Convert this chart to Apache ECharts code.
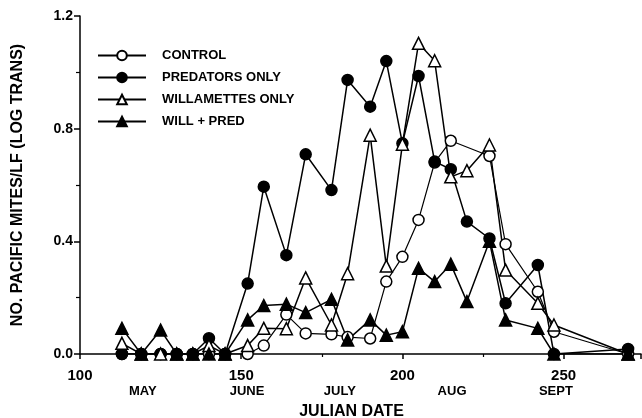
<!DOCTYPE html>
<html>
<head>
<meta charset="utf-8">
<script src="https://cdn.jsdelivr.net/npm/echarts@6/dist/echarts.min.js"></script>
<style>
html,body{margin:0;padding:0;background:#fff;}
#c{width:642px;height:418px;}
</style>
</head>
<body>
<div id="c"></div>
<script>
const days = [113,119,125,130,135,140,145,152,157,164,170,178,183,190,195,200,205,210,215,220,227,232,242,247,270];
const control  = [0,0,0,0,0,0,0,0,0.03,0.14,0.073,0.07,0.06,0.055,0.257,0.345,0.476,0.68,0.757,null,0.703,0.39,0.221,0.079,0];
const pred     = [0,0,0,0,0,0.056,0,0.25,0.594,0.351,0.709,0.582,0.973,0.878,1.04,0.748,0.987,0.683,0.656,0.47,0.41,0.18,0.316,0,0.018];
const will     = [0.038,0,0,0,0,0.03,0,0.03,0.091,0.09,0.27,0.103,0.285,0.777,0.312,0.745,1.103,1.041,0.629,0.651,0.742,0.298,0.18,0.103,0];
const willPred = [0.091,0,0.085,0,0,0,0,0.121,0.172,0.177,0.147,0.194,0.05,0.121,0.067,0.079,0.304,0.257,0.319,0.186,0.40,0.121,0.091,0,0];
const seriesNames = ['CONTROL','PREDATORS ONLY','WILLAMETTES ONLY','WILL + PRED'];
const months = ['MAY','JUNE','JULY','AUG','SEPT'];
const monthDays = [119.5,151.8,180.6,215.4,247.6];

const FONT = '"Liberation Sans", Arial, sans-serif';
function pairs(vals){ return days.map((d,i)=>[d, vals[i]]); }

const chart = echarts.init(document.getElementById('c'), null, {renderer:'canvas'});
function mk(name, vals, symbol, filled, lw){
  return {
    name, type:'line', data: pairs(vals), symbol, symbolSize: symbol==='triangle'?12:11,
    connectNulls:true, showAllSymbol:true,
    lineStyle:{color:'#000', width: lw},
    itemStyle:{color: filled?'#000':'#fff', borderColor:'#000', borderWidth:1.5},
    emphasis:{disabled:true}
  };
}
const option = {
  animation:false,
  backgroundColor:'#fff',
  grid:{left:80, top:16, right:1, bottom:64, containLabel:false, outerBoundsMode:'none'},
  legend:{
    orient:'vertical', left:97, top:49, padding:0, itemWidth:48, itemHeight:12, itemGap:9,
    data: seriesNames,
    textStyle:{fontFamily:FONT, fontWeight:'bold', fontSize:13, color:'#000', padding:[0,0,0,11]},
    selectedMode:false
  },
  xAxis:{
    type:'value', min:100, max:274, interval:50,
    axisLine:{lineStyle:{color:'#000', width:1.5}},
    axisTick:{length:5, lineStyle:{color:'#000', width:1.5}},
    minorTick:{show:true, splitNumber:2, length:3, lineStyle:{color:'#000', width:1.2}},
    splitLine:{show:false},
    axisLabel:{showMaxLabel:false, margin:14, fontFamily:FONT, fontWeight:'bold', fontSize:15, color:'#000'},
    name:'JULIAN DATE', nameLocation:'middle', nameGap:50,
    nameTextStyle:{fontFamily:FONT, fontWeight:'bold', fontSize:16, color:'#000', padding:[0,18,0,0]}
  },
  yAxis:{
    type:'value', min:0, max:1.2, interval:0.4,
    axisLine:{show:true, lineStyle:{color:'#000', width:1.5}},
    axisTick:{show:true, length:6, lineStyle:{color:'#000', width:1.5}},
    minorTick:{show:true, splitNumber:2, length:4, lineStyle:{color:'#000', width:1.2}},
    splitLine:{show:false},
    axisLabel:{margin:7, formatter:v=>v.toFixed(1), fontFamily:FONT, fontWeight:'bold', fontSize:14, color:'#000'},
    name:'NO. PACIFIC MITES/LF (LOG TRANS)', nameLocation:'middle', nameGap:54, nameRotate:90,
    nameTextStyle:{fontFamily:FONT, fontWeight:'bold', fontSize:16, color:'#000'}
  },
  series:[
    mk(seriesNames[0], control, 'circle', false, 1.2),
    mk(seriesNames[1], pred, 'circle', true, 1.5),
    mk(seriesNames[2], will, 'triangle', false, 1.5),
    mk(seriesNames[3], willPred, 'triangle', true, 1.5)
  ]
};
chart.setOption(option);
const g = months.map((m,i)=>{
  const x = chart.convertToPixel({xAxisIndex:0}, monthDays[i]);
  const y = chart.convertToPixel({yAxisIndex:0}, 0);
  return {type:'text', x, y: y+37, style:{text:m, fill:'#000', font:'bold 13px "Liberation Sans", Arial, sans-serif', align:'center', verticalAlign:'middle'}};
});
chart.setOption({graphic:g});
</script>
</body>
</html>
